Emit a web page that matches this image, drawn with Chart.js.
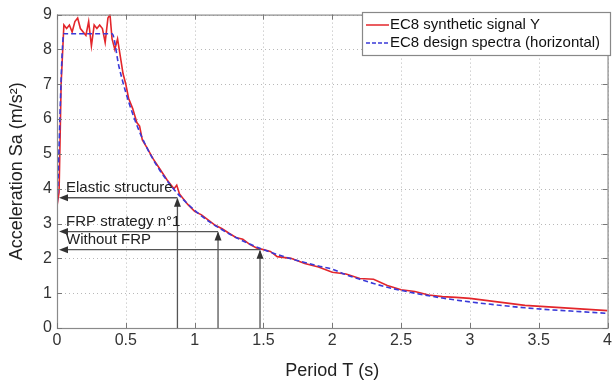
<!DOCTYPE html>
<html><head><meta charset="utf-8">
<script src="https://cdn.jsdelivr.net/npm/chart.js@4/dist/chart.umd.min.js"></script>
<style>html,body{margin:0;padding:0;background:#fff}#wrap{width:615px;height:382px}</style>
</head><body><div id="wrap"><canvas id="c" width="615" height="382"></canvas></div>
<script>
const periodSignal = [0,0.015,0.03,0.05,0.07,0.09,0.11,0.13,0.15,0.17,0.19,0.21,0.23,0.25,0.27,0.29,0.31,0.33,0.35,0.37,0.385,0.40,0.42,0.44,0.46,0.48,0.50,0.52,0.55,0.58,0.60,0.62,0.65,0.70,0.75,0.80,0.85,0.87,0.89,0.92,0.95,1.00,1.05,1.10,1.15,1.20,1.25,1.30,1.35,1.40,1.45,1.50,1.55,1.60,1.70,1.80,1.90,2.00,2.10,2.20,2.30,2.40,2.50,2.60,2.70,2.80,2.90,3.00,3.20,3.40,3.60,3.80,4.00];
const accelSignal = [3.5,3.9,7.0,8.7,8.6,8.7,8.5,8.8,8.9,8.6,8.5,8.4,8.8,8.1,8.7,8.6,8.7,8.6,8.2,8.9,9.0,8.3,8.0,8.3,7.8,7.3,7.0,6.6,6.3,5.9,5.8,5.4,5.2,4.85,4.55,4.25,4.0,4.1,3.85,3.7,3.55,3.35,3.25,3.1,2.95,2.85,2.72,2.6,2.55,2.4,2.3,2.25,2.2,2.05,2.0,1.85,1.75,1.6,1.55,1.42,1.4,1.22,1.1,1.05,0.95,0.9,0.88,0.85,0.75,0.65,0.6,0.55,0.5];
const periodDesign = [0,0.05,0.40,0.45,0.50,0.55,0.60,0.65,0.70,0.75,0.80,0.85,0.90,0.95,1.00,1.10,1.20,1.30,1.40,1.50,1.60,1.70,1.80,1.90,2.00,2.10,2.20,2.30,2.40,2.50,2.60,2.80,3.00,3.20,3.40,3.60,3.80,4.00];
const accelDesign = [3.38,8.45,8.45,7.51,6.76,6.15,5.63,5.20,4.83,4.51,4.23,3.98,3.76,3.56,3.38,3.07,2.82,2.60,2.41,2.25,2.11,1.99,1.88,1.78,1.69,1.53,1.40,1.28,1.17,1.08,1.00,0.86,0.75,0.66,0.58,0.52,0.47,0.42];
const seriesNames = ["EC8 synthetic signal Y","EC8 design spectra (horizontal)"];
const markerLabels = ["Elastic structure","FRP strategy n°1","Without FRP"];
const markerPeriods = [0.875,1.17,1.475];
const markerAccels = [3.74,2.77,2.25];
const xTicks = [0,0.5,1,1.5,2,2.5,3,3.5,4];
const yTicks = [0,1,2,3,4,5,6,7,8,9];

const FONT = 'Liberation Sans, Arial, sans-serif';

const gridPlugin = {
  id:'dotgrid',
  beforeDatasetsDraw(chart){
    const {ctx, chartArea:a, scales:{x,y}} = chart;
    ctx.save();
    ctx.strokeStyle='#b8b8b8'; ctx.lineWidth=1; ctx.setLineDash([1,3]);
    xTicks.forEach(v=>{const px=Math.round(x.getPixelForValue(v))+0.5;
      ctx.beginPath();ctx.moveTo(px,a.top);ctx.lineTo(px,a.bottom);ctx.stroke();});
    yTicks.forEach(v=>{const py=Math.round(y.getPixelForValue(v))+0.5;
      ctx.beginPath();ctx.moveTo(a.left,py);ctx.lineTo(a.right,py);ctx.stroke();});
    ctx.restore();
  }
};

const framePlugin = {
  id:'frame',
  afterDatasetsDraw(chart){
    const {ctx, chartArea:a, scales:{x,y}} = chart;
    ctx.save();
    ctx.strokeStyle='#8a8a8a'; ctx.lineWidth=1.2; ctx.setLineDash([]);
    ctx.strokeRect(a.left+0.5,a.top+0.5,a.right-a.left,a.bottom-a.top);
    ctx.strokeStyle='#777'; ctx.lineWidth=1;
    xTicks.forEach(v=>{const px=Math.round(x.getPixelForValue(v))+0.5;
      ctx.beginPath();ctx.moveTo(px,a.bottom);ctx.lineTo(px,a.bottom-5);ctx.moveTo(px,a.top);ctx.lineTo(px,a.top+5);ctx.stroke();});
    yTicks.forEach(v=>{const py=Math.round(y.getPixelForValue(v))+0.5;
      ctx.beginPath();ctx.moveTo(a.left,py);ctx.lineTo(a.left+5,py);ctx.moveTo(a.right,py);ctx.lineTo(a.right-5,py);ctx.stroke();});
    ctx.strokeStyle='#555'; ctx.lineWidth=1.3;
    const x0=x.getPixelForValue(0), yb=y.getPixelForValue(0);
    markerPeriods.forEach((t,i)=>{
      const px=x.getPixelForValue(t), py=y.getPixelForValue(markerAccels[i]);
      ctx.beginPath();ctx.moveTo(px,yb);ctx.lineTo(px,py+1);ctx.stroke();
      ctx.beginPath();ctx.moveTo(px,py);ctx.lineTo(x0+8,py);ctx.stroke();
      ctx.fillStyle='#333';
      ctx.beginPath();ctx.moveTo(px,py);ctx.lineTo(px-3.5,py+9);ctx.lineTo(px+3.5,py+9);ctx.closePath();ctx.fill();
      ctx.beginPath();ctx.moveTo(x0+2,py);ctx.lineTo(x0+11,py-3.5);ctx.lineTo(x0+11,py+3.5);ctx.closePath();ctx.fill();
      ctx.font='15px '+FONT; ctx.fillStyle='#222'; ctx.textBaseline='bottom'; ctx.textAlign='left';
      ctx.fillText(markerLabels[i], x0+9, py-2);
    });
    const lx=362, ly=12, lw=248, lh=43;
    ctx.fillStyle='#fff'; ctx.fillRect(lx,ly,lw,lh);
    ctx.strokeStyle='#888'; ctx.lineWidth=1.2; ctx.strokeRect(lx+0.5,ly+0.5,lw,lh);
    ctx.font='15px '+FONT; ctx.textBaseline='middle'; ctx.fillStyle='#111';
    const rows=[ly+13, ly+31];
    ctx.lineWidth=1.5;
    ctx.strokeStyle='#e3262b'; ctx.setLineDash([]);
    ctx.beginPath();ctx.moveTo(lx+4,rows[0]);ctx.lineTo(lx+27,rows[0]);ctx.stroke();
    ctx.strokeStyle='#3a3ad8'; ctx.setLineDash([4,2]);
    ctx.beginPath();ctx.moveTo(lx+4,rows[1]);ctx.lineTo(lx+27,rows[1]);ctx.stroke();
    ctx.setLineDash([]);
    ctx.fillText(seriesNames[0], lx+28, rows[0]);
    ctx.fillText(seriesNames[1], lx+28, rows[1]);
    ctx.restore();
  }
};

new Chart(document.getElementById('c'),{
  type:'line',
  data:{datasets:[
    {label:seriesNames[1],data:periodDesign.map((t,i)=>({x:t,y:accelDesign[i]})),borderColor:'#3a3ad8',borderWidth:1.6,borderDash:[5,3],pointRadius:0,cubicInterpolationMode:'monotone',fill:false},
    {label:seriesNames[0],data:periodSignal.map((t,i)=>({x:t,y:accelSignal[i]})),borderColor:'#e3262b',borderWidth:1.6,pointRadius:0,tension:0,fill:false}
  ]},
  options:{
    responsive:false,animation:false,
    layout:{padding:{left:6,right:3,top:10,bottom:0}},
    plugins:{legend:{display:false},tooltip:{enabled:false}},
    scales:{
      x:{type:'linear',min:0,max:4,
        afterBuildTicks(s){s.ticks=xTicks.map(v=>({value:v}));},
        afterFit(s){s.height=54;},
        ticks:{font:{size:16,family:FONT},color:'#333',padding:3,maxRotation:0,callback:v=>String(v)},
        grid:{display:false,drawTicks:false},
        border:{display:false},
        title:{display:true,text:'Period T (s)',font:{size:18,family:FONT},color:'#222',padding:{top:2,bottom:0}}},
      y:{min:0,max:9,
        afterBuildTicks(s){s.ticks=yTicks.map(v=>({value:v}));},
        afterFit(s){s.width=51;},
        ticks:{font:{size:16,family:FONT},color:'#333',padding:5},
        grid:{display:false,drawTicks:false},
        border:{display:false},
        title:{display:true,text:'Acceleration Sa (m/s²)',font:{size:18,family:FONT},color:'#222',padding:{top:0,bottom:2}}}
    }
  },
  plugins:[gridPlugin, framePlugin]
});
</script></body></html>
